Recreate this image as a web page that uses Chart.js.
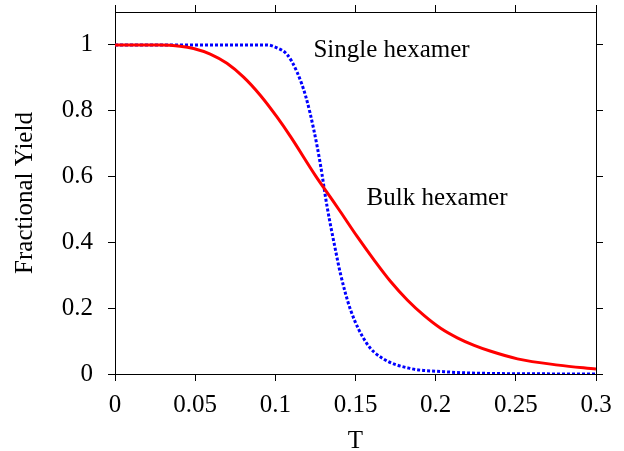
<!DOCTYPE html>
<html>
<head>
<meta charset="utf-8">
<script src="https://cdn.jsdelivr.net/npm/chart.js@4.4.1/dist/chart.umd.min.js"></script>
<style>
  html, body { margin: 0; padding: 0; background: #fff; }
  canvas { display: block; }
</style>
</head>
<body>
<canvas id="grafico" width="624" height="451"></canvas>
<script>
// ================= DATA =================
// Bulk hexamer (red, solid)
const tBulk = [0, 0.028, 0.0406, 0.049, 0.0594, 0.0698, 0.0802, 0.0906, 0.101, 0.1094, 0.125, 0.1354, 0.1406, 0.151, 0.1615, 0.1719, 0.1823, 0.1927, 0.2031, 0.2135, 0.224, 0.2344, 0.251, 0.2765, 0.3];
const yieldBulk = [1, 0.9995, 0.996, 0.989, 0.972, 0.944, 0.902, 0.847, 0.781, 0.722, 0.603, 0.530, 0.493, 0.418, 0.347, 0.281, 0.225, 0.178, 0.139, 0.110, 0.087, 0.069, 0.046, 0.027, 0.015];

// Single hexamer (blue, dotted)
const tSingle = [0, 0.0948, 0.101, 0.1073, 0.1135, 0.119, 0.124, 0.128, 0.1323, 0.1375, 0.1406, 0.1469, 0.157, 0.1667, 0.184, 0.205, 0.23, 0.3];
const yieldSingle = [1, 1, 0.991, 0.971, 0.918, 0.843, 0.742, 0.64, 0.508, 0.377, 0.305, 0.195, 0.093, 0.048, 0.017, 0.007, 0.002, 0];

// axis ranges / ticks
const xRange = [0, 0.3];
const yRange = [0, 1.1];
const xStep = 0.05;
const yStep = 0.2;

// text labels inside the plot
const noteText = ["Single hexamer", "Bulk hexamer"];
const noteT = [0.12375, 0.1569];
const noteY = [0.9645, 0.5137];

// =================================================
const FONTE = '"Liberation Serif", "Times New Roman", serif';
Chart.defaults.font.family = FONTE;
Chart.defaults.font.size = 25;
Chart.defaults.color = "#000";

function pontos(xs, ys) {
  return xs.map((x, i) => ({ x: x, y: ys[i] }));
}

function rotulo(v) {
  return String(+v.toFixed(2));
}

// no label overflow padding, so the plot box lands where the reference has it
function semPadding(s) {
  s.paddingTop = 0;
  s.paddingBottom = 0;
  s.paddingLeft = 0;
  s.paddingRight = 0;
}

const notas = {
  id: "notas",
  afterDatasetsDraw(chart) {
    const ctx = chart.ctx;
    const sx = chart.scales.x;
    const sy = chart.scales.y;
    ctx.save();
    ctx.font = "25px " + FONTE;
    ctx.fillStyle = "#000";
    ctx.textAlign = "left";
    ctx.textBaseline = "alphabetic";
    noteText.forEach((txt, i) => {
      ctx.fillText(txt, sx.getPixelForValue(noteT[i]), sy.getPixelForValue(noteY[i]));
    });
    ctx.restore();
  }
};

const eixoBorda = { display: true, color: "#000", width: 1 };
const gradeFora = { drawOnChartArea: false, drawTicks: true, tickLength: 7, color: "#000" };
const soAte1 = s => { s.ticks = s.ticks.filter(t => t.value <= 1.0001); };

new Chart(document.getElementById("grafico").getContext("2d"), {
  type: "line",
  data: {
    datasets: [
      {
        label: "Bulk hexamer",
        data: pontos(tBulk, yieldBulk),
        borderColor: "#ff0000",
        borderWidth: 3,
        pointRadius: 0,
        cubicInterpolationMode: "monotone",
        fill: false
      },
      {
        label: "Single hexamer",
        data: pontos(tSingle, yieldSingle),
        borderColor: "#0000ff",
        borderWidth: 3,
        borderDash: [3, 2],
        pointRadius: 0,
        cubicInterpolationMode: "monotone",
        fill: false
      }
    ]
  },
  options: {
    responsive: false,
    animation: false,
    devicePixelRatio: 1,
    layout: { padding: 0 },
    plugins: {
      legend: { display: false },
      tooltip: { enabled: false }
    },
    scales: {
      x: {
        type: "linear",
        position: "bottom",
        min: xRange[0],
        max: xRange[1],
        border: eixoBorda,
        grid: gradeFora,
        ticks: { stepSize: xStep, padding: 9, maxRotation: 0, callback: v => rotulo(v) },
        title: {
          display: true,
          text: "T",
          font: { size: 25, lineHeight: 1 },
          padding: { top: 0, bottom: -3 }
        },
        afterFit: s => { s.height = 77; semPadding(s); }
      },
      x2: {
        type: "linear",
        position: "top",
        min: xRange[0],
        max: xRange[1],
        border: eixoBorda,
        grid: gradeFora,
        ticks: { stepSize: xStep, display: false },
        afterFit: s => { s.height = 12; semPadding(s); }
      },
      y: {
        type: "linear",
        position: "left",
        min: yRange[0],
        max: yRange[1],
        border: eixoBorda,
        grid: gradeFora,
        ticks: { stepSize: yStep, padding: 15, callback: v => rotulo(v) },
        afterBuildTicks: soAte1,
        title: {
          display: true,
          text: "Fractional Yield",
          font: { size: 25 },
          padding: { top: 10, bottom: 0 }
        },
        afterFit: s => { s.width = 115; semPadding(s); }
      },
      y2: {
        type: "linear",
        position: "right",
        min: yRange[0],
        max: yRange[1],
        border: eixoBorda,
        grid: gradeFora,
        ticks: { stepSize: yStep, display: false },
        afterBuildTicks: soAte1,
        afterFit: s => { s.width = 28; semPadding(s); }
      }
    }
  },
  plugins: [notas]
});
</script>
</body>
</html>
